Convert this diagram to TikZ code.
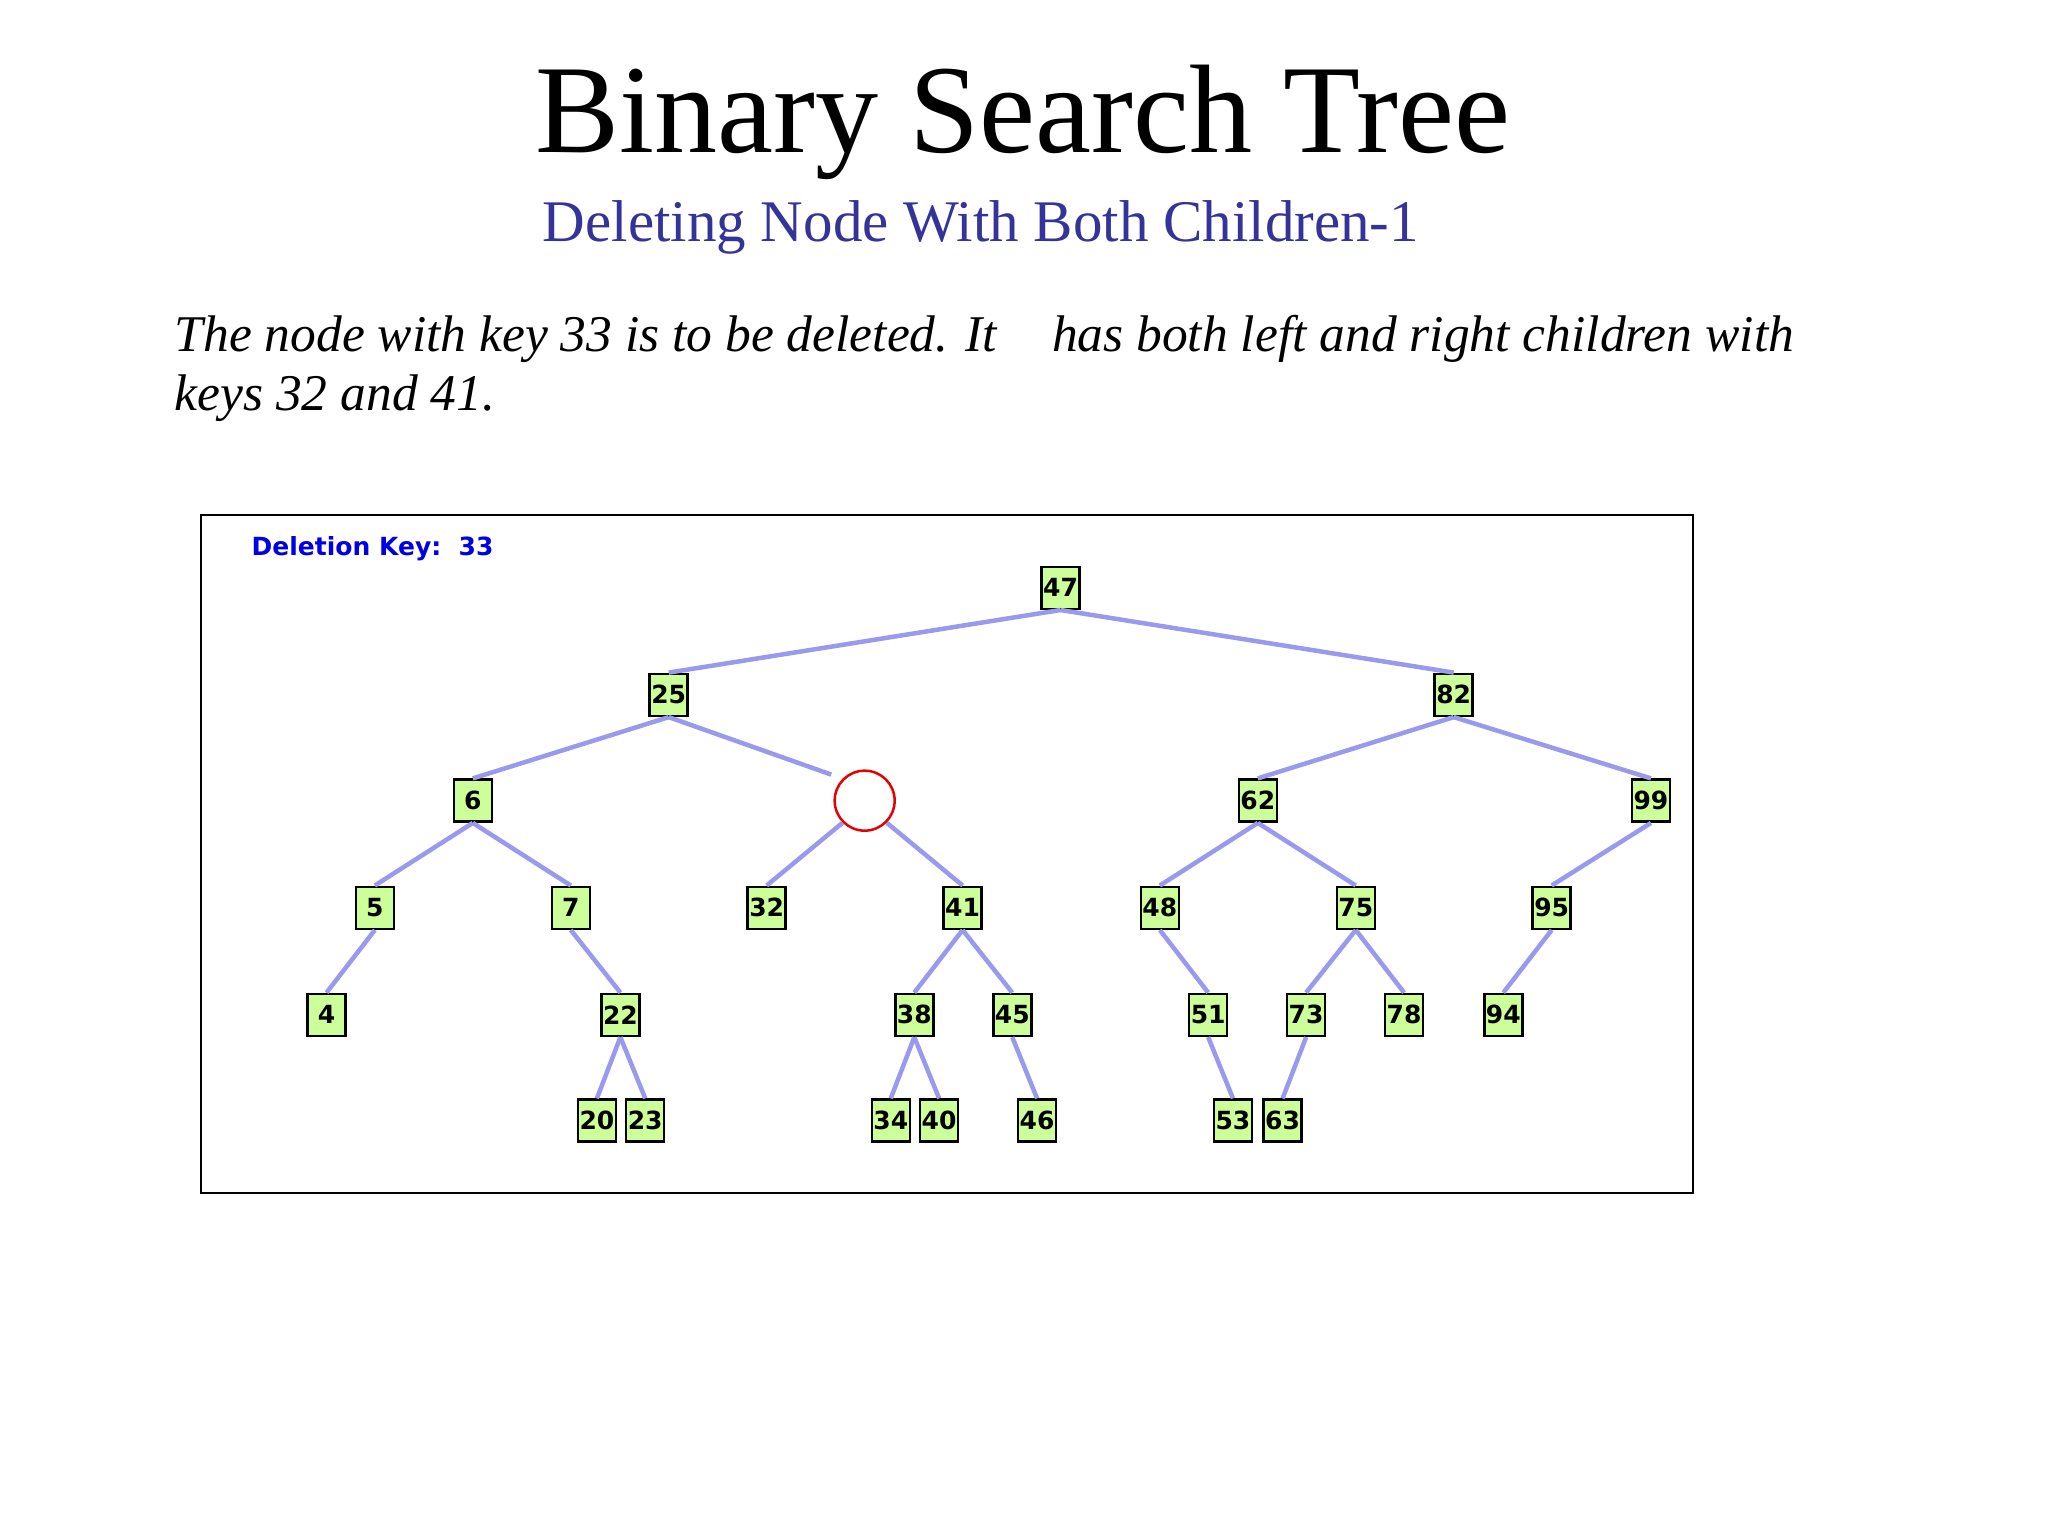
\documentclass[tikz,border=0pt]{standalone}
\usepackage{fontspec}
\setmainfont{Liberation Serif}
\newfontfamily\keyfont{DejaVu Sans}
\begin{document}
\begin{tikzpicture}[x=1.306pt,y=-1.306pt,
  tn/.style={draw=black,line width=2.5pt,fill={rgb,255:red,204;green,255;blue,153},minimum width=38pt,minimum height=42pt,inner sep=0pt,font=\fontsize{25}{27}\keyfont\bfseries},
  ed/.style={draw={rgb,255:red,153;green,153;blue,238},line width=4.5pt}]
\useasboundingbox[fill=white] (0,0) rectangle (1568,1176);
\node[font=\fontsize{126}{134}\selectfont] (title) at (783,94) {Binary Search Tree};
\node[font=\fontsize{59}{64}\selectfont,text={rgb,255:red,51;green,51;blue,153},anchor=base west] (sub) at (413,185) {Deleting Node With Both Children-1};
\node[font=\fontsize{51.5}{59}\selectfont\itshape,anchor=base west,align=left] (body) at (131,314) {The node with key 33 is to be deleted. It\hspace{42pt} has both left and right children with\\keys 32 and 41.};
\draw[line width=2pt] (154,394) rectangle (1296,913);
\node[font=\fontsize{25}{28}\keyfont\bfseries,text={rgb,255:red,0;green,0;blue,230},anchor=base west] (dk) at (190,425) {Deletion Key:\ \ 33};
% nodes
\node[tn] (n47) at (812,450) {47};
\node[tn] (n25) at (512,532) {25};
\node[tn] (n82) at (1113,532) {82};
\node[tn] (n6) at (362,613) {6};
\node[circle,draw={rgb,255:red,230;green,0;blue,0},line width=2.5pt,minimum size=60pt,inner sep=0pt] (c) at (662,613) {};
\node[tn] (n62) at (963,613) {62};
\node[tn] (n99) at (1264,613) {99};
\foreach \k/\x in {5/287,7/437,32/587,41/737,48/888,75/1038,95/1188}
  \node[tn] (n\k) at (\x,695) {\k};
\foreach \k/\x in {4/250,22/475,38/700,45/775,51/925,73/1000,78/1075,94/1151}
  \node[tn] (n\k) at (\x,777) {\k};
\foreach \k/\x in {20/457,23/494,34/682,40/719,46/794,53/944,63/982}
  \node[tn] (n\k) at (\x,858) {\k};
% edges
\foreach \a/\b in {47/25,47/82,25/6,82/62,82/99,6/5,6/7,62/48,62/75,99/95,5/4,7/22,41/38,41/45,48/51,75/73,75/78,95/94,22/20,22/23,38/34,38/40,45/46,51/53,73/63}
  \draw[ed] (n\a.south) -- (n\b.north);
\draw[ed,shorten >=12pt] (n25.south) -- (c.north west);
\draw[ed] (c.south west) -- (n32.north);
\draw[ed] (c.south east) -- (n41.north);
\end{tikzpicture}
\end{document}
